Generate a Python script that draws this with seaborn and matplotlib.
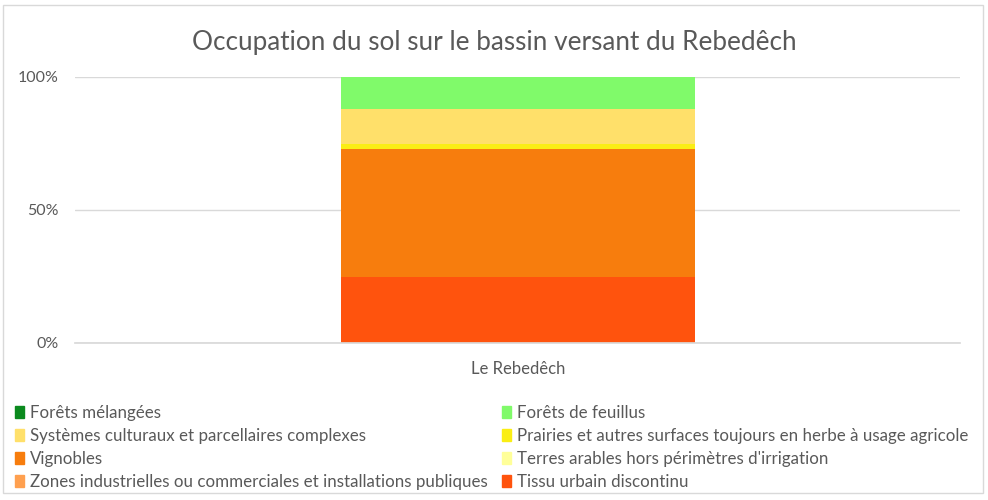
import matplotlib.pyplot as plt
import matplotlib.patches as mpatches
import pandas as pd
import seaborn as sns

# Land-use shares (%), legend order
categories = [
    "Forêts mélangées",
    "Forêts de feuillus",
    "Systèmes culturaux et parcellaires complexes",
    "Prairies et autres surfaces toujours en herbe à usage agricole",
    "Vignobles",
    "Terres arables hors périmètres d'irrigation",
    "Zones industrielles ou commerciales et installations publiques",
    "Tissu urbain discontinu",
]
shares = [0.0, 12.3, 13.1, 1.9, 48.1, 0.0, 0.0, 24.6]
colors = ["#0B8A1E", "#80FA6A", "#FFE06A", "#FAEE14",
          "#F77D0D", "#FFFF99", "#FFA04F", "#FF530D"]
basin = "Le Rebedêch"
y_ticks = [0, 50, 100]
y_tick_labels = ["0%", "50%", "100%"]


def main() -> None:
    sns.set_theme(style="white")
    plt.rcParams["font.family"] = ["Lato", "DejaVu Sans"]

    df = pd.DataFrame({"category": categories, "share": shares, "color": colors})
    df["basin"] = basin

    fig = plt.figure(figsize=(9.88, 5.0), dpi=100)
    ax = fig.add_axes([0.076, 0.314, 0.896, 0.533])

    # stack from the bottom: reverse of legend order
    bottom = 0.0
    for _, row in df.iloc[::-1].iterrows():
        sns.barplot(
            data=row.to_frame().T.astype({"share": float}),
            x="basin",
            y="share",
            color=row["color"],
            width=0.4,
            bottom=bottom,
            saturation=1,
            linewidth=0,
            ax=ax,
        )
        bottom += row["share"]

    ax.set_xlim(-0.5, 0.5)
    ax.set_ylim(0, 100)
    ax.set_yticks(y_ticks)
    ax.set_yticklabels(y_tick_labels)
    ax.yaxis.grid(True, color="#D9D9D9", linewidth=1)
    ax.set_axisbelow(True)
    for side in ["top", "right", "left"]:
        ax.spines[side].set_visible(False)
    ax.spines["bottom"].set_color("#D9D9D9")
    ax.tick_params(axis="y", length=0, labelsize=11.5, labelcolor="#595959", pad=12)
    ax.tick_params(axis="x", length=0, labelsize=12, labelcolor="#595959", pad=13)
    ax.set_xlabel("")
    ax.set_ylabel("")

    fig.text(0.5, 0.915, "Occupation du sol sur le bassin versant du Rebedêch",
             ha="center", va="center", fontsize=18.8, color="#595959")

    handles = [mpatches.Patch(color=c, label=l) for c, l in zip(colors, categories)]
    # matplotlib fills columns first; reorder so rows read like the reference
    order = [0, 2, 4, 6, 1, 3, 5, 7]
    leg = fig.legend(
        [handles[i] for i in order],
        [categories[i] for i in order],
        ncol=2,
        loc="upper left",
        bbox_to_anchor=(0.008, 0.204),
        frameon=False,
        fontsize=12.2,
        handlelength=0.55,
        handleheight=0.7,
        handletextpad=0.35,
        columnspacing=0.85,
        labelspacing=0.41,
        borderaxespad=0,
    )
    for t in leg.get_texts():
        t.set_color("#595959")

    fig.patches.append(mpatches.Rectangle(
        (0.003, 0.015), 0.992, 0.975, transform=fig.transFigure,
        fill=False, edgecolor="#D9D9D9", linewidth=1))

    fig.savefig("out.png", dpi=100)
    plt.close(fig)


if __name__ == "__main__":
    main()
